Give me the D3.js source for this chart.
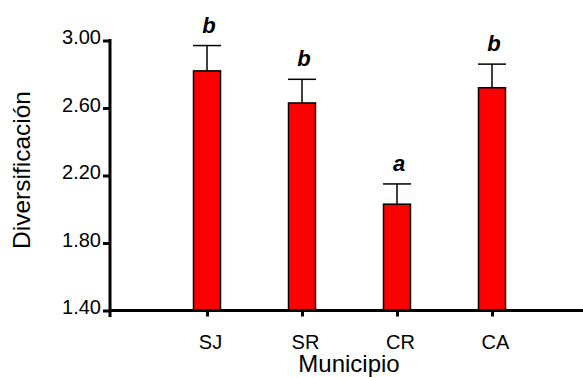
<!DOCTYPE html>
<html>
<head>
<meta charset="utf-8">
<script src="https://cdn.jsdelivr.net/npm/d3@7"></script>
<style>
  html, body { margin: 0; padding: 0; background: #fff; }
  svg { display: block; }
  text { font-family: "Liberation Sans", Arial, Helvetica, sans-serif; fill: #000; }
</style>
</head>
<body>
<svg id="chart" width="583" height="378"></svg>
<script>
// Diversification by municipality: means, standard errors and group letters
const municipios = ["SJ", "SR", "CR", "CA"];
const diversificacion = [2.82, 2.63, 2.03, 2.72];
const errorEstandar = [0.15, 0.14, 0.12, 0.14];
const grupos = ["b", "b", "a", "b"];
const yTicks = [1.40, 1.80, 2.20, 2.60, 3.00];

const svg = d3.select("#chart");
const plotLeft = 110, plotTop = 40.5, plotBottom = 310.5;

const x = d3.scalePoint().domain(municipios).range([112, 587]).padding(1);
const y = d3.scaleLinear().domain([1.4, 3.0]).range([plotBottom, plotTop]);

const barW = 27, capW = 28;

// bars
svg.selectAll("rect.bar")
  .data(municipios)
  .join("rect")
  .attr("class", "bar")
  .attr("x", d => x(d) - barW / 2)
  .attr("y", (d, i) => y(diversificacion[i]))
  .attr("width", barW)
  .attr("height", (d, i) => y(1.4) - y(diversificacion[i]))
  .attr("fill", "#ff0000")
  .attr("stroke", "#000")
  .attr("stroke-width", 1.5);

// upper error bars
const eb = svg.selectAll("g.err").data(municipios).join("g").attr("class", "err");
eb.append("line")
  .attr("x1", d => x(d)).attr("x2", d => x(d))
  .attr("y1", (d, i) => y(diversificacion[i]))
  .attr("y2", (d, i) => y(diversificacion[i] + errorEstandar[i]))
  .attr("stroke", "#000").attr("stroke-width", 1.5);
eb.append("line")
  .attr("x1", d => x(d) - capW / 2).attr("x2", d => x(d) + capW / 2)
  .attr("y1", (d, i) => y(diversificacion[i] + errorEstandar[i]))
  .attr("y2", (d, i) => y(diversificacion[i] + errorEstandar[i]))
  .attr("stroke", "#000").attr("stroke-width", 1.5);

// significance letters
svg.selectAll("text.grp")
  .data(municipios)
  .join("text")
  .attr("class", "grp")
  .attr("x", d => x(d) + 2)
  .attr("y", (d, i) => y(diversificacion[i] + errorEstandar[i]) - 13)
  .attr("text-anchor", "middle")
  .style("font-size", "22px")
  .style("font-weight", "bold")
  .style("font-style", "italic")
  .text((d, i) => grupos[i]);

// y axis
const yAxis = svg.append("g")
  .attr("transform", `translate(${plotLeft},0)`)
  .call(d3.axisLeft(y).tickValues(yTicks).tickFormat(d3.format(".2f")).tickSize(7).tickPadding(2));
yAxis.select(".domain").remove();
yAxis.selectAll(".tick line").attr("stroke", "#000").attr("stroke-width", 3);
yAxis.selectAll(".tick text").style("font-size", "20px").attr("dy", "0.15em");
svg.append("line")
  .attr("x1", plotLeft).attr("x2", plotLeft)
  .attr("y1", plotTop - 1.5).attr("y2", 317)
  .attr("stroke", "#000").attr("stroke-width", 3);

// x axis
const xAxis = svg.append("g")
  .attr("transform", `translate(0,${plotBottom})`)
  .call(d3.axisBottom(x).tickSize(6).tickPadding(18).tickSizeOuter(0));
xAxis.select(".domain").remove();
xAxis.selectAll(".tick line").attr("stroke", "#000").attr("stroke-width", 3);
xAxis.selectAll(".tick text").style("font-size", "20px").attr("dx", 3);
svg.append("line")
  .attr("x1", plotLeft).attr("x2", 583)
  .attr("y1", plotBottom).attr("y2", plotBottom)
  .attr("stroke", "#000").attr("stroke-width", 3);

// axis titles
svg.append("text")
  .attr("transform", "translate(30,170) rotate(-90)")
  .attr("text-anchor", "middle")
  .style("font-size", "24.5px")
  .text("Diversificación");
svg.append("text")
  .attr("x", 349).attr("y", 372)
  .attr("text-anchor", "middle")
  .style("font-size", "24px")
  .text("Municipio");
</script>
</body>
</html>
